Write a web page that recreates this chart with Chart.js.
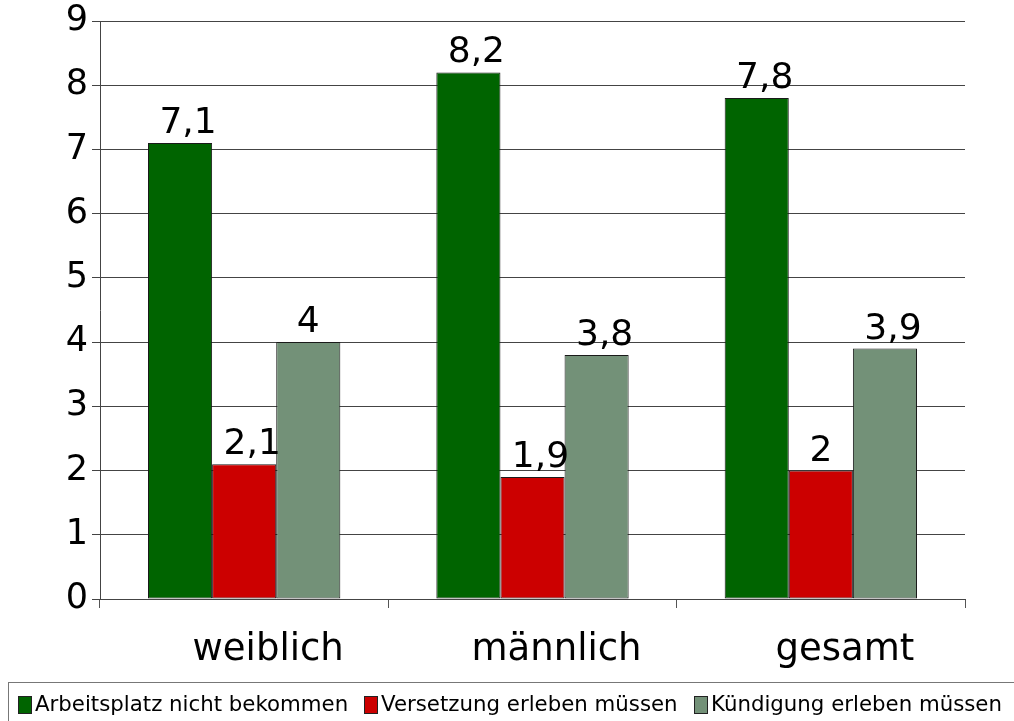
<!DOCTYPE html>
<html>
<head>
<meta charset="utf-8">
<script src="https://cdn.jsdelivr.net/npm/chart.js@4.4.0/dist/chart.umd.min.js"></script>
<style>
  html,body{margin:0;padding:0;background:#fff;}
  #wrap{position:relative;width:1014px;height:721px;overflow:hidden;}
  #c{position:absolute;left:0;top:-4px;}
  #legend{position:absolute;left:8px;top:682px;width:1100px;height:60px;border-left:1px solid #777;border-top:1px solid #777;
    font-family:"DejaVu Sans",Verdana,sans-serif;font-size:21.3px;color:#000;white-space:nowrap;}
  .item{position:absolute;top:8px;}
  .sw{display:inline-block;width:14px;height:18px;border:1px solid #222;vertical-align:-3px;margin-right:3px;box-sizing:border-box;}
</style>
</head>
<body>
<div id="wrap">
<canvas id="c" width="1014" height="725"></canvas>
<div id="legend"></div>
</div>
<script>
const categories = ["weiblich", "männlich", "gesamt"];
const seriesNames = ["Arbeitsplatz nicht bekommen", "Versetzung erleben müssen", "Kündigung erleben müssen"];
const arbeitsplatz = [7.1, 8.2, 7.8];
const versetzung = [2.1, 1.9, 2.0];
const kuendigung = [4.0, 3.8, 3.9];
const seriesColors = ["#006400", "#cc0000", "#739178"];
const yTicks = [0, 1, 2, 3, 4, 5, 6, 7, 8, 9];
const legendX = [9, 355, 685];

const FONT = '"DejaVu Sans", Verdana, sans-serif';
const values = [arbeitsplatz, versetzung, kuendigung];

const valueLabels = {
  id: 'valueLabels',
  afterDatasetsDraw(chart) {
    const ctx = chart.ctx;
    ctx.save();
    ctx.font = '36px ' + FONT;
    ctx.fillStyle = '#000';
    ctx.textAlign = 'center';
    ctx.textBaseline = 'alphabetic';
    chart.data.datasets.forEach((ds, i) => {
      chart.getDatasetMeta(i).data.forEach((bar, j) => {
        const txt = String(ds.data[j]).replace('.', ',');
        ctx.fillText(txt, bar.x + (txt.length > 1 ? 8 : 0), bar.y - 10);
      });
    });
    ctx.restore();
  }
};

new Chart(document.getElementById('c'), {
  type: 'bar',
  data: {
    labels: categories,
    datasets: values.map((v, i) => ({
      label: seriesNames[i],
      data: v,
      backgroundColor: seriesColors[i],
      borderColor: '#1a1a1a',
      borderWidth: 1,
      borderSkipped: false,
      categoryPercentage: 0.667,
      barPercentage: 1.0
    }))
  },
  options: {
    responsive: false,
    animation: false,
    devicePixelRatio: 1,
    layout: { padding: { top: 18, right: 49, left: 0, bottom: 0 } },
    plugins: { legend: { display: false }, tooltip: { enabled: false } },
    scales: {
      x: {
        grid: { display: true, drawOnChartArea: false, offset: true, color: '#555', tickLength: 9, lineWidth: 1 },
        border: { display: true, color: '#444', width: 1 },
        ticks: { font: { family: FONT, size: 37 }, color: '#000', labelOffset: 24, padding: 20, maxRotation: 0 },
        afterFit(s) { s.height = 122; }
      },
      y: {
        min: 0, max: 9,
        afterBuildTicks(s) { s.ticks = yTicks.map(v => ({ value: v })); },
        grid: { color: '#444', lineWidth: 1, tickLength: 8 },
        border: { display: true, color: '#444', width: 1 },
        ticks: { font: { family: FONT, size: 35 }, color: '#000', padding: 4 },
        afterFit(s) { s.width = 100; }
      }
    }
  },
  plugins: [valueLabels]
});

const leg = document.getElementById('legend');
seriesNames.forEach((n, i) => {
  const d = document.createElement('span');
  d.className = 'item';
  d.style.left = legendX[i] + 'px';
  d.innerHTML = '<span class="sw" style="background:' + seriesColors[i] + '"></span>' + n;
  leg.appendChild(d);
});
</script>
</body>
</html>
